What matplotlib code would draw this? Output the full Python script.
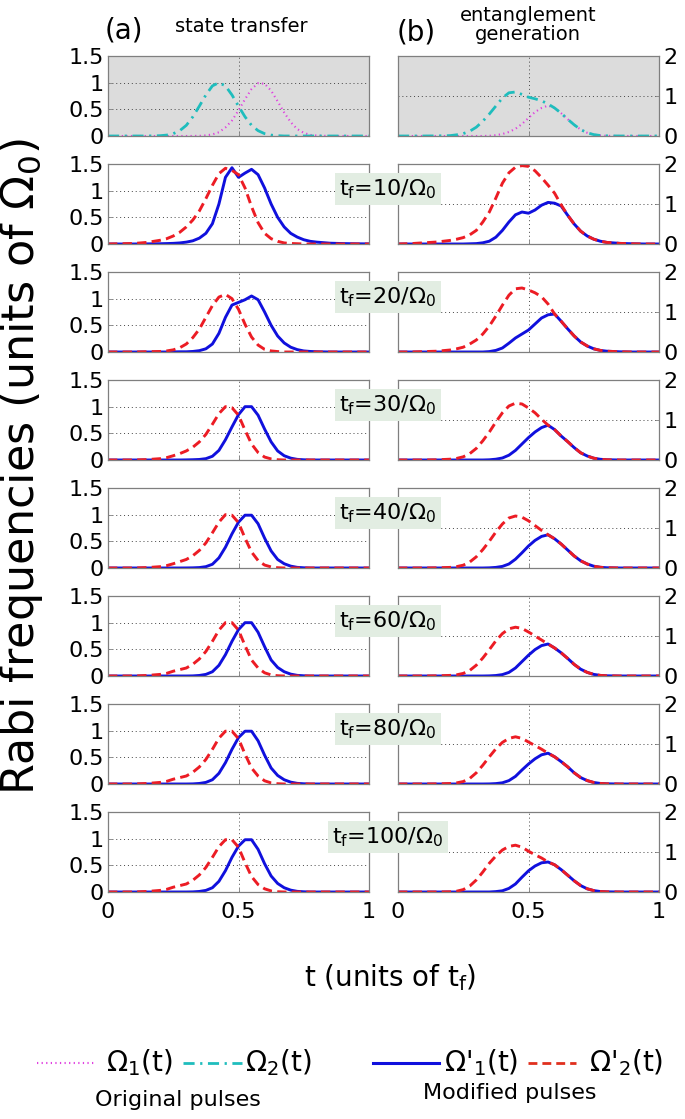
import matplotlib
matplotlib.use("Agg")
import matplotlib.pyplot as plt
from matplotlib.lines import Line2D

plt.rcParams['font.family'] = ['DejaVu Sans']
plt.rcParams['mathtext.fontset'] = 'custom'
plt.rcParams['mathtext.rm'] = 'DejaVu Sans'
plt.rcParams['mathtext.it'] = 'DejaVu Sans'
plt.rcParams['mathtext.bf'] = 'DejaVu Sans:bold'

# ---------------- data ----------------
T = [0, .05, .1, .15, .2, .225, .25, .275, .3, .325, .35, .375, .4, .425, .45, .475,
     .5, .525, .55, .575, .6, .625, .65, .675, .7, .725, .75, .775, .8, .85, .9, .95, 1]

# original pulses (top row)
om1_a = [0, 0, 0, 0, 0, 0, 0, 0, 0, .001, .003, .011, .03, .07, .16, .29,
         .48, .69, .88, .99, .98, .85, .65, .44, .26, .13, .06, .02, .008, 0, 0, 0, 0]
om2_a = [0, 0, 0, 0, .006, .017, .044, .10, .20, .36, .56, .77, .94, 1.0, .94, .77,
         .56, .36, .20, .10, .044, .017, .006, 0, 0, 0, 0, 0, 0, 0, 0, 0, 0]
om1_b = [0, 0, 0, 0, 0, 0, 0, 0, 0, 0, .005, .02, .05, .1, .18, .3,
         .45, .6, .7, .76, .7, .57, .42, .28, .16, .08, .035, .012, .004, 0, 0, 0, 0]
om2_b = [0, 0, 0, .003, .01, .03, .06, .12, .22, .37, .55, .75, .95, 1.08, 1.1, 1.04,
         .97, .93, .88, .8, .7, .57, .42, .28, .16, .08, .035, .012, .004, 0, 0, 0, 0]

tf_labels = ['10', '20', '30', '40', '60', '80', '100']

# modified pulses, state transfer (a)
mod1_a = [
    [0, 0, 0, .002, .005, .008, .012, .02, .035, .06, .11, .2, .38, .75, 1.25, 1.43,
     1.25, 1.33, 1.4, 1.3, 1.05, .75, .5, .32, .2, .13, .08, .05, .035, .015, .008, .004, .002],
    [0, 0, 0, 0, 0, 0, .002, .004, .004, .01, .025, .06, .15, .35, .65, .88,
     .93, .98, 1.05, .98, .75, .5, .3, .17, .09, .045, .02, .01, .005, 0, 0, 0, 0],
    [0, 0, 0, 0, 0, 0, 0, 0, .002, .005, .01, .025, .07, .18, .38, .62,
     .85, 1.0, 1.0, .84, .58, .34, .17, .08, .035, .012, .004, 0, 0, 0, 0, 0, 0],
    [0, 0, 0, 0, 0, 0, 0, 0, .001, .003, .008, .025, .07, .19, .39, .64,
     .86, .99, .99, .83, .56, .32, .16, .08, .035, .012, .004, 0, 0, 0, 0, 0, 0],
    [0, 0, 0, 0, 0, 0, 0, 0, 0, .002, .01, .03, .08, .2, .4, .65,
     .87, 1.0, 1.0, .82, .55, .3, .16, .08, .035, .012, .004, 0, 0, 0, 0, 0, 0],
    [0, 0, 0, 0, 0, 0, 0, 0, 0, .002, .01, .03, .08, .2, .4, .65,
     .87, .99, .99, .81, .54, .3, .16, .08, .035, .012, .004, 0, 0, 0, 0, 0, 0],
    [0, 0, 0, 0, 0, 0, 0, 0, 0, .002, .01, .03, .08, .2, .4, .65,
     .86, .98, .98, .8, .53, .3, .16, .08, .035, .012, .004, 0, 0, 0, 0, 0, 0],
]
mod2_a = [
    [0, .005, .01, .03, .07, .1, .15, .22, .32, .45, .62, .85, 1.1, 1.32, 1.42, 1.38,
     1.3, 1.05, .7, .4, .2, .1, .05, .02, .01, .005, 0, 0, 0, 0, 0, 0, 0],
    [0, 0, 0, .005, .01, .02, .04, .08, .15, .27, .43, .65, .87, 1.03, 1.08, 1.0,
     .8, .52, .28, .13, .05, .02, .008, 0, 0, 0, 0, 0, 0, 0, 0, 0, 0],
    [0, 0, 0, .008, .025, .045, .08, .12, .17, .24, .34, .48, .67, .87, 1.0, .98,
     .84, .56, .3, .14, .055, .02, .005, 0, 0, 0, 0, 0, 0, 0, 0, 0, 0],
    [0, 0, 0, .008, .025, .045, .08, .12, .16, .23, .33, .47, .66, .86, 1.0, .99,
     .85, .56, .3, .14, .055, .02, .005, 0, 0, 0, 0, 0, 0, 0, 0, 0, 0],
    [0, 0, 0, .01, .03, .05, .09, .12, .15, .22, .32, .46, .65, .86, 1.0, 1.0,
     .86, .57, .3, .15, .06, .02, .005, 0, 0, 0, 0, 0, 0, 0, 0, 0, 0],
    [0, 0, 0, .01, .03, .05, .09, .12, .15, .22, .32, .46, .65, .86, .99, .99,
     .85, .56, .3, .15, .06, .02, .005, 0, 0, 0, 0, 0, 0, 0, 0, 0, 0],
    [0, 0, 0, .01, .03, .05, .09, .12, .15, .22, .32, .46, .65, .85, .98, .98,
     .84, .55, .29, .14, .06, .02, .005, 0, 0, 0, 0, 0, 0, 0, 0, 0, 0],
]

# modified pulses, entanglement generation (b)
mod1_b = [
    [0, 0, 0, 0, 0, 0, 0, .005, .01, .03, .07, .17, .34, .55, .73, .8,
     .77, .85, .97, 1.04, 1.02, .95, .72, .5, .32, .2, .12, .07, .04, .015, .005, 0, 0],
    [0, 0, 0, 0, 0, 0, 0, 0, 0, 0, .01, .04, .1, .22, .35, .45,
     .55, .7, .85, .93, .95, .77, .58, .4, .25, .15, .08, .04, .02, .005, 0, 0, 0],
    [0, 0, 0, 0, 0, 0, 0, 0, 0, 0, .005, .02, .05, .12, .24, .4,
     .56, .7, .81, .87, .76, .6, .46, .31, .18, .1, .045, .018, .006, 0, 0, 0, 0],
    [0, 0, 0, 0, 0, 0, 0, 0, 0, 0, .004, .015, .04, .1, .22, .38,
     .55, .69, .79, .83, .73, .6, .45, .3, .18, .1, .045, .018, .006, 0, 0, 0, 0],
    [0, 0, 0, 0, 0, 0, 0, 0, 0, 0, .003, .012, .035, .09, .2, .36,
     .52, .66, .76, .8, .7, .58, .44, .29, .17, .09, .04, .015, .005, 0, 0, 0, 0],
    [0, 0, 0, 0, 0, 0, 0, 0, 0, 0, .002, .01, .03, .085, .19, .35,
     .5, .63, .73, .77, .68, .56, .43, .28, .16, .085, .038, .014, .005, 0, 0, 0, 0],
    [0, 0, 0, 0, 0, 0, 0, 0, 0, 0, 0, .01, .03, .09, .2, .37,
     .53, .65, .73, .75, .68, .56, .42, .28, .16, .08, .035, .012, .004, 0, 0, 0, 0],
]
mod2_b = [
    [0, .01, .03, .05, .09, .12, .16, .23, .34, .55, .8, 1.15, 1.52, 1.78, 1.92, 1.96,
     1.94, 1.83, 1.66, 1.47, 1.27, .98, .72, .5, .32, .2, .12, .07, .04, .015, .005, 0, 0],
    [0, 0, .01, .02, .05, .08, .12, .2, .3, .45, .65, .9, 1.17, 1.42, 1.58, 1.6,
     1.55, 1.48, 1.38, 1.2, .95, .77, .58, .4, .25, .15, .08, .04, .02, .005, 0, 0, 0],
    [0, 0, 0, .005, .02, .04, .08, .16, .29, .48, .7, .95, 1.18, 1.35, 1.42, 1.4,
     1.3, 1.18, 1.02, .87, .76, .6, .46, .31, .18, .1, .045, .018, .006, 0, 0, 0, 0],
    [0, 0, 0, .004, .015, .035, .07, .15, .28, .46, .67, .9, 1.1, 1.25, 1.3, 1.27,
     1.18, 1.06, .94, .83, .73, .6, .45, .3, .18, .1, .045, .018, .006, 0, 0, 0, 0],
    [0, 0, 0, .004, .015, .03, .065, .14, .27, .45, .66, .88, 1.06, 1.18, 1.22, 1.19,
     1.1, 1.0, .9, .8, .7, .58, .44, .29, .17, .09, .04, .015, .005, 0, 0, 0, 0],
    [0, 0, 0, .003, .012, .028, .062, .14, .28, .47, .68, .88, 1.04, 1.14, 1.18, 1.14,
     1.05, .96, .87, .77, .68, .56, .43, .28, .16, .085, .038, .014, .005, 0, 0, 0, 0],
    [0, 0, 0, 0, .005, .02, .06, .15, .3, .5, .72, .9, 1.05, 1.14, 1.17, 1.12,
     1.02, .93, .85, .75, .68, .56, .42, .28, .16, .08, .035, .012, .004, 0, 0, 0, 0],
]

yticks_a = [0, 0.5, 1, 1.5]
yticklabels_a = ['0', '0.5', '1', '1.5']
yticks_b = [0, 1, 2]
yticklabels_b = ['0', '1', '2']
xticks = [0, 0.5, 1]
xticklabels = ['0', '0.5', '1']

# ---------------- style ----------------
W, H = 685, 1119
fig = plt.figure(figsize=(W / 100, H / 100), dpi=100)

BLUE = '#1010dd'
RED = '#ec1c24'
CYAN = '#1fbdbd'
MAG = '#e040e0'
SPINE = '#7f7f7f'
TICKFS = 16

col_x = [108, 398]
col_w = [261, 261]
row_top0, row_pitch, row_h = 56, 108, 80


def make_ax(row, col):
    x0 = col_x[col] / W
    y0 = 1 - (row_top0 + row_pitch * row + row_h) / H
    ax = fig.add_axes([x0, y0, col_w[col] / W, row_h / H])
    ax.set_xlim(0, 1)
    if col == 0:
        ax.set_ylim(0, 1.5)
        ax.set_yticks(yticks_a)
        ax.set_yticklabels(yticklabels_a)
    else:
        ax.set_ylim(0, 2)
        ax.set_yticks(yticks_b)
        ax.set_yticklabels(yticklabels_b)
        ax.yaxis.tick_right()
    ax.set_xticks(xticks)
    if row == 7:
        ax.set_xticklabels(xticklabels)
    else:
        ax.set_xticklabels([])
    for s in ax.spines.values():
        s.set_color(SPINE)
        s.set_linewidth(0.9)
    ax.tick_params(direction='in', length=3, width=0.6, color=SPINE,
                   labelsize=TICKFS)
    ax.tick_params(axis='y', pad=3)
    ax.tick_params(axis='x', pad=7)
    if col == 1:
        ax.tick_params(axis='y', left=False, right=True)
    ax.grid(True, linestyle=(0, (1, 3)), color='#444444', linewidth=0.7)
    ax.set_axisbelow(True)
    return ax


# top row: original pulses
for col, (o1, o2) in enumerate([(om1_a, om2_a), (om1_b, om2_b)]):
    ax = make_ax(0, col)
    ax.set_facecolor('#dcdcdc')
    ax.plot(T, o1, color=MAG, linestyle=(0, (0.6, 1.6)), linewidth=1.5)
    ax.plot(T, o2, color=CYAN, linestyle=(0, (4, 2, 0.8, 2)), linewidth=2.0)

# modified pulses
for r in range(7):
    for col, (m1, m2) in enumerate([(mod1_a, mod2_a), (mod1_b, mod2_b)]):
        ax = make_ax(r + 1, col)
        ax.plot(T, m1[r], color=BLUE, linewidth=2.1)
        ax.plot(T, m2[r], color=RED, linestyle=(0, (3.2, 1.8)), linewidth=2.1)
    ytxt = 1 - (row_top0 + row_pitch * (r + 1) + 25) / H
    fig.text(388 / W, ytxt, r'$t_f$=' + tf_labels[r] + r'/$\Omega_0$',
             ha='center', va='center', fontsize=16,
             bbox=dict(boxstyle='square,pad=0.2', facecolor='#e2ede2',
                       edgecolor='none'))

# headings
fig.text(105 / W, 1 - 31 / H, '(a)', fontsize=20, ha='left', va='center')
fig.text(241 / W, 1 - 27 / H, 'state transfer', fontsize=14, ha='center', va='center')
fig.text(397 / W, 1 - 32 / H, '(b)', fontsize=20, ha='left', va='center')
fig.text(528 / W, 1 - 25 / H, 'entanglement\ngeneration', fontsize=14,
         ha='center', va='center', linespacing=1.0)

# axis labels
fig.text(22 / W, 1 - 467 / H, r'Rabi frequencies (units of $\Omega_0$)', rotation=90,
         fontsize=32, ha='center', va='center')
fig.text(390 / W, 1 - 978 / H, r't (units of $t_f$)', fontsize=20,
         ha='center', va='center')

# legend
ly = 1 - 1063 / H
fig.add_artist(Line2D([37 / W, 96 / W], [ly, ly], color=MAG,
                      linestyle=(0, (0.6, 1.6)), linewidth=1.5))
fig.text(106 / W, ly, r'$\Omega_1$(t)', fontsize=20, ha='left', va='center')
fig.add_artist(Line2D([183 / W, 242 / W], [ly, ly], color=CYAN,
                      linestyle=(0, (4, 2, 0.8, 2)), linewidth=2.0))
fig.text(245 / W, ly, r'$\Omega_2$(t)', fontsize=20, ha='left', va='center')
fig.add_artist(Line2D([373 / W, 439 / W], [ly, ly], color=BLUE, linewidth=2.2))
fig.text(444 / W, ly, r"$\Omega$'$_1$(t)", fontsize=20, ha='left', va='center')
fig.add_artist(Line2D([528 / W, 576 / W], [ly, ly], color='#e0301e',
                      linestyle=(0, (3.2, 1.8)), linewidth=2.0))
fig.text(589 / W, ly, r"$\Omega$'$_2$(t)", fontsize=20, ha='left', va='center')

fig.text(178 / W, 1 - 1100 / H, 'Original pulses', fontsize=16, ha='center', va='center')
fig.text(510 / W, 1 - 1093 / H, 'Modified pulses', fontsize=16, ha='center', va='center')

fig.savefig('out.png', dpi=100)
